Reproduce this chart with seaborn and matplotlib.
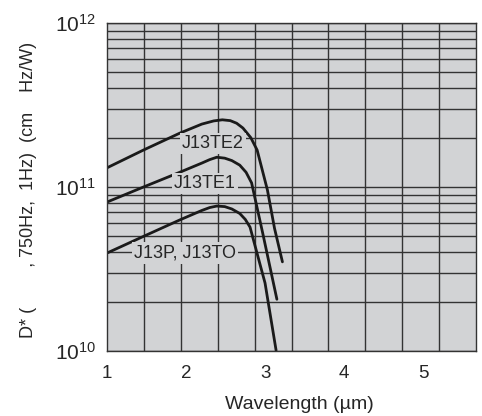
import numpy as np
import pandas as pd
import seaborn as sns
import matplotlib.pyplot as plt
from matplotlib.ticker import FixedLocator, NullFormatter

# values (wavelength in um, D* in cm Hz^1/2 / W)
te2_wl = [1.0, 1.46, 1.92, 2.2, 2.35, 2.46, 2.56, 2.64, 2.72, 2.82, 2.90, 3.03, 3.12, 3.22]
te2_d = [1.31e11, 1.68e11, 2.13e11, 2.42e11, 2.53e11, 2.57e11, 2.54e11, 2.45e11, 2.29e11, 2.0e11, 1.68e11, 9.6e10, 5.6e10, 3.5e10]

te1_wl = [1.0, 1.46, 1.92, 2.2, 2.3, 2.39, 2.49, 2.58, 2.68, 2.76, 2.83, 2.97, 3.15]
te1_d = [8.1e10, 1.0e11, 1.23e11, 1.40e11, 1.47e11, 1.52e11, 1.50e11, 1.45e11, 1.36e11, 1.23e11, 1.06e11, 5.25e10, 2.07e10]

p_wl = [1.0, 1.46, 1.92, 2.2, 2.3, 2.39, 2.49, 2.58, 2.68, 2.75, 2.81, 3.0, 3.14]
p_d = [3.96e10, 5.0e10, 6.3e10, 7.2e10, 7.5e10, 7.66e10, 7.6e10, 7.35e10, 6.9e10, 6.35e10, 5.7e10, 2.6e10, 1.01e10]

names = ['J13TE2', 'J13TE1', 'J13P, J13TO']
x_ticks = [1, 2, 3, 4, 5]
y_ticks = [1e10, 1e11, 1e12]
y_labels = ['10$^{10}$', '10$^{11}$', '10$^{12}$']

df = pd.concat([
    pd.DataFrame({'wl': te2_wl, 'D': te2_d, 'det': names[0]}),
    pd.DataFrame({'wl': te1_wl, 'D': te1_d, 'det': names[1]}),
    pd.DataFrame({'wl': p_wl, 'D': p_d, 'det': names[2]}),
])

bg = '#d2d3d5'
sns.set_style('white', {'axes.facecolor': bg})
plt.rcParams['font.family'] = ['Liberation Sans', 'DejaVu Sans']
plt.rcParams['mathtext.default'] = 'regular'

fig = plt.figure(figsize=(4.82, 4.16), dpi=100)
ax = fig.add_axes([0.222, 0.156, 0.7656, 0.7887])

sns.lineplot(data=df, x='wl', y='D', units='det', estimator=None, sort=False,
             color='#1a1a1a', lw=2, ax=ax, legend=False)

ax.set_yscale('log')
ax.set_xlim(1, 5.67)
ax.set_ylim(1e10, 1e12)

ax.set_xticks(x_ticks)
ax.set_xticklabels([str(t) for t in x_ticks])
ax.xaxis.set_minor_locator(FixedLocator(np.linspace(1, 5.67, 11)[1:-1]))
ax.set_yticks(y_ticks)
ax.set_yticklabels(y_labels)
minors = [m * 10 ** e for e in (10, 11) for m in range(2, 10)]
ax.yaxis.set_minor_locator(FixedLocator(minors))
ax.yaxis.set_minor_formatter(NullFormatter())

ax.tick_params(which='both', length=0)
ax.tick_params(axis='x', labelsize=13.5, pad=10)
ax.tick_params(axis='y', labelsize=15, pad=8)

ax.grid(False)
ax.grid(True, axis='x', which='minor', color='#333333', lw=1)
ax.grid(True, axis='y', which='both', color='#333333', lw=1)
for s in ax.spines.values():
    s.set_color('#333333')
    s.set_linewidth(1)

box = dict(facecolor=bg, edgecolor='none', pad=1.5)
ax.text(2.34, 1.85e11, names[0], fontsize=13, ha='center', va='center', bbox=box)
ax.text(2.24, 1.05e11, names[1], fontsize=13, ha='center', va='center', bbox=box)
ax.text(1.99, 3.96e10, names[2], fontsize=13, ha='center', va='center', bbox=box)

ax.set_xlabel('Wavelength (µm)', fontsize=14)
ax.xaxis.set_label_coords(0.52, -0.138)
ax.set_ylabel('D* (        , 750Hz,  1Hz)  (cm    Hz/W)', fontsize=13)
ax.yaxis.set_label_coords(-0.19, 0.49)

fig.savefig('out.png', dpi=100)
